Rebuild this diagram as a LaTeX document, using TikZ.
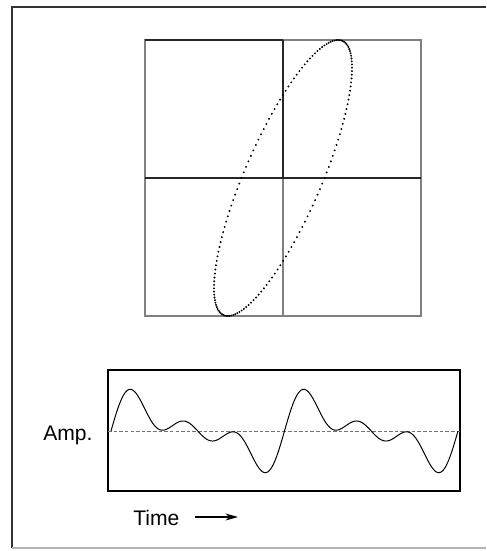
\documentclass[tikz,border=0pt]{standalone}
\usepackage{fontspec}
\setmainfont{Liberation Sans}
\usetikzlibrary{arrows.meta}

\begin{document}
\begin{tikzpicture}[x=0.025cm,y=-0.025cm,
		frameline/.style={line width=1pt,black!80},
		gridline/.style={line width=0.8pt,black!50},
		axisline/.style={line width=0.9pt,black!85},
		lbl/.style={anchor=base west,inner sep=0pt,font=\fontsize{15pt}{18pt}\selectfont}]
	\useasboundingbox (0,0) rectangle (486,551);
	% outer frame, right edge cut off
	\draw[frameline] (486,7) -- (12,7) -- (12,548);
	\draw[gridline,black!30] (12,548) -- (486,548);
	\begin{scope}
		\draw[gridline] (145,40) rectangle (421,316);
		\draw[axisline] (145,40) -- (283,40);
		\draw[axisline] (283,40) -- (283,178);
		\draw[gridline] (283,178) -- (283,316);
		\draw[axisline] (145,178) -- (421,178);
		\draw[only marks,mark=*,mark size=0.45pt,samples=157,domain=0:360] plot ({283+69*sin(\x+37)},{178-138*sin(\x)});
	\end{scope}
	\begin{scope}
		\draw[line width=1.1pt] (108,370) rectangle (460,491);
		\draw[black!55,line width=0.6pt,dash pattern=on 2.5pt off 1.5pt] (108,431) -- (460,431);
		\draw[line width=0.7pt,domain=0:720,samples=240,smooth] plot ({111+\x*0.4819},{431-20*sin(\x)-16.6*sin(2*\x)-14.4*sin(3*\x)});
		\node[lbl] (amp) at (43,440) {Amp.};
		\node[lbl] (time) at (133,525) {Time};
		\coordinate (timetail) at (195,517);
		\coordinate (timehead) at (238,517);
		\draw[line width=0.8pt,-{Stealth[length=9pt,width=5pt]}] (timetail) -- (timehead);
	\end{scope}
\end{tikzpicture}
\end{document}
